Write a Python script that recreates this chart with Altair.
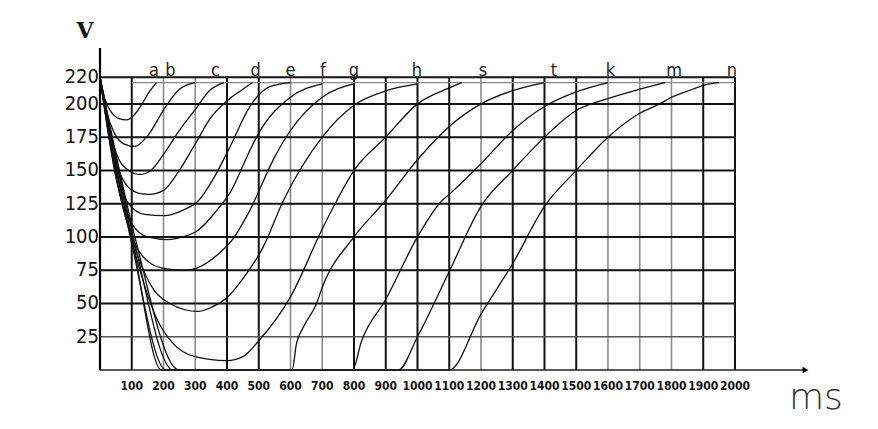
import altair as alt
import pandas as pd

# ---- values (time in ms, voltage in V) ----
curve_names = ["a", "b", "c", "d", "e", "f", "g", "h", "s", "t", "k", "m", "n"]

a_t = [0, 15, 35, 60, 84, 105, 130, 155, 178]
a_v = [220, 204, 194, 189, 188, 191, 199, 209, 216]
b_t = [0, 20, 45, 75, 110, 150, 207, 250, 299]
b_v = [220, 195, 178, 170, 168, 176, 198, 211, 216]
c_t = [0, 30, 60, 90, 126, 160, 200, 250, 304, 345, 390]
c_v = [220, 180, 158, 150, 147, 150, 162, 180, 197, 210, 216]
d_t = [0, 40, 80, 120, 155, 200, 250, 300, 350, 404, 450, 480]
d_v = [220, 165, 140, 133, 132, 135, 150, 170, 190, 203, 211, 216]
e_t = [0, 45, 90, 140, 204, 260, 309, 360, 410, 472, 535, 600]
e_v = [220, 155, 125, 117, 116, 120, 127, 145, 168, 198, 213, 216]
f_t = [0, 50, 100, 150, 214, 260, 309, 361, 414, 472, 500, 600, 700]
f_v = [220, 145, 110, 100, 98, 100, 105, 118, 135, 165, 178, 205, 215]
g_t = [0, 55, 110, 160, 210, 267, 309, 372, 414, 472, 550, 600, 700, 800]
g_v = [220, 140, 95, 80, 76, 75, 77, 87, 97, 120, 160, 180, 205, 215]
h_t = [0, 60, 120, 170, 220, 309, 350, 403, 445, 513, 577, 700, 800, 903, 1000]
h_v = [220, 135, 85, 60, 50, 44, 47, 55, 67, 92, 127, 175, 199, 210, 215]
s_t = [0, 60, 120, 180, 230, 300, 400, 450, 500, 600, 700, 745, 800, 900, 1000, 1100, 1140]
s_v = [220, 140, 80, 38, 20, 10, 7, 10, 22, 55, 106, 127, 150, 175, 200, 212, 216]
t_t = [0, 100, 194, 605, 619, 640, 682, 700, 800, 898, 1000, 1100, 1200, 1300, 1400]
t_v = [220, 100, 0, 0, 20, 32, 50, 62, 100, 127, 158, 183, 200, 210, 216]
k_t = [0, 100, 208, 795, 824, 900, 1000, 1076, 1100, 1200, 1300, 1400, 1500, 1600]
k_v = [220, 95, 0, 0, 22, 53, 100, 127, 132, 155, 180, 198, 209, 216]
m_t = [0, 105, 230, 940, 1000, 1100, 1200, 1300, 1400, 1500, 1600, 1700, 1780]
m_v = [220, 100, 0, 0, 25, 74, 123, 150, 175, 195, 204, 211, 216]
n_t = [0, 110, 249, 1100, 1200, 1300, 1400, 1500, 1600, 1700, 1763, 1800, 1867, 1900, 1950]
n_v = [220, 100, 0, 0, 42, 80, 123, 150, 175, 193, 200, 205, 211, 214, 216]

curve_t = [a_t, b_t, c_t, d_t, e_t, f_t, g_t, h_t, s_t, t_t, k_t, m_t, n_t]
curve_v = [a_v, b_v, c_v, d_v, e_v, f_v, g_v, h_v, s_v, t_v, k_v, m_v, n_v]

# curve letters written above the top line, and where they sit (ms)
label_t = [170, 222, 364, 490, 600, 702, 800, 998, 1206, 1430, 1608, 1808, 1990]

# grid / tick values
x_ticks = [100, 200, 300, 400, 500, 600, 700, 800, 900, 1000,
           1100, 1200, 1300, 1400, 1500, 1600, 1700, 1800, 1900, 2000]
x_grid_dark = [1, 0, 0, 1, 1, 0, 0, 1, 1, 1, 1, 0, 1, 1, 1, 0, 0, 0, 1, 1]
y_ticks = [25, 50, 75, 100, 125, 150, 175, 200, 220]
y_grid_dark = [0, 1, 1, 1, 1, 1, 1, 1, 1]
merge_level = [216]

# ---- tables ----
rows = []
for name, ts, vs in zip(curve_names, curve_t, curve_v):
    for i, (tt, vv) in enumerate(zip(ts, vs)):
        rows.append({"curve": name, "i": i, "t": tt, "v": vv})
curves_df = pd.DataFrame(rows)
labels_df = pd.DataFrame({"t": label_t, "txt": curve_names})
xg_df = pd.DataFrame({"t": x_ticks, "dark": x_grid_dark, "txt": [str(x) for x in x_ticks]})
yg_df = pd.DataFrame({"v": y_ticks, "dark": y_grid_dark, "txt": [str(y) for y in y_ticks]})
merge_df = pd.DataFrame({"v": merge_level})

xs = alt.Scale(domain=[0, 2230], nice=False, zero=False)
ys = alt.Scale(domain=[0, 242], nice=False, zero=False)
FONT = "Liberation Sans Narrow, DejaVu Sans Condensed, DejaVu Sans, sans-serif"

X = lambda f: alt.X(f, type="quantitative", scale=xs, axis=None)
Y = lambda f: alt.Y(f, type="quantitative", scale=ys, axis=None)

vgrid = alt.Chart(xg_df).transform_calculate(
    v0="0", v1="220",
    col="datum.dark == 1 ? '#111111' : '#8c8c8c'",
    w="datum.dark == 1 ? 2 : 1.6",
).mark_rule().encode(
    x=X("t"), y=Y("v0"), y2="v1:Q",
    color=alt.Color("col:N", scale=None),
    strokeWidth=alt.StrokeWidth("w:Q", scale=None),
)

hgrid = alt.Chart(yg_df).transform_calculate(
    t0="0", t1="2000",
    col="datum.dark == 1 ? '#111111' : '#555555'",
    w="datum.dark == 1 ? 2 : 1.3",
).mark_rule().encode(
    y=Y("v"), x=X("t0"), x2="t1:Q",
    color=alt.Color("col:N", scale=None),
    strokeWidth=alt.StrokeWidth("w:Q", scale=None),
)

merge_line = alt.Chart(merge_df).transform_calculate(t0="100", t1="2000").mark_rule(
    color="#8a8a8a", strokeWidth=1.2
).encode(y=Y("v"), x=X("t0"), x2="t1:Q")

yaxis = alt.Chart(merge_df).transform_calculate(t0="0", v0="0", v1="242").mark_rule(
    color="#000000", strokeWidth=2.2
).encode(x=X("t0"), y=Y("v0"), y2="v1:Q")

xaxis = alt.Chart(merge_df).transform_calculate(v0="0", t0="0", t1="2222").mark_rule(
    color="#222222", strokeWidth=1.6
).encode(y=Y("v0"), x=X("t0"), x2="t1:Q")

arrow = alt.Chart(merge_df).transform_calculate(v0="0", t0="2222").mark_point(
    shape="triangle-right", filled=True, color="#000000", size=45, opacity=1
).encode(x=X("t0"), y=Y("v0"))

lines = alt.Chart(curves_df).mark_line(
    color="#111111", strokeWidth=1.3, interpolate="monotone"
).encode(
    x=X("t"), y=Y("v"), detail="curve:N", order="i:Q"
)

curve_labels = alt.Chart(labels_df).transform_calculate(v0="221").mark_text(
    font=FONT, fontSize=18, baseline="alphabetic", align="center", color="#222222"
).encode(x=X("t"), y=Y("v0"), text="txt:N")

ytick_labels = alt.Chart(yg_df).transform_calculate(t0="0").mark_text(
    font=FONT, fontSize=20, baseline="middle", align="right", dx=-1, color="#111111"
).encode(x=X("t0"), y=Y("v"), text="txt:N")

xtick_labels = alt.Chart(xg_df).transform_calculate(v0="0").mark_text(
    font=FONT, fontSize=12, fontWeight="bold", baseline="middle", align="center",
    dy=16, color="#111111"
).encode(x=X("t"), y=Y("v0"), text="txt:N")

title_df = pd.DataFrame({"t": [-47, 2255], "v": [255, -21], "txt": ["V", "ms"]})
v_label = alt.Chart(title_df.iloc[[0]]).mark_text(
    font="DejaVu Serif, Liberation Serif, serif", fontSize=22, fontWeight="bold",
    baseline="middle", align="center", color="#111111"
).encode(x=X("t"), y=Y("v"), text="txt:N")
ms_label = alt.Chart(title_df.iloc[[1]]).mark_text(
    font="DejaVu Sans, sans-serif", fontSize=36, fontWeight=200,
    baseline="middle", align="center", color="#333333"
).encode(x=X("t"), y=Y("v"), text="txt:N")

chart = alt.layer(
    vgrid, hgrid, merge_line, lines, yaxis, xaxis, arrow,
    curve_labels, ytick_labels, xtick_labels, v_label, ms_label
).properties(
    width=708, height=322,
    autosize=alt.AutoSizeParams(type="none"),
    padding={"left": 92, "top": 40, "right": 62, "bottom": 50},
    background="white",
).configure_view(stroke=None)

chart.save("out.html", embed_options={"renderer": "svg", "actions": False})
